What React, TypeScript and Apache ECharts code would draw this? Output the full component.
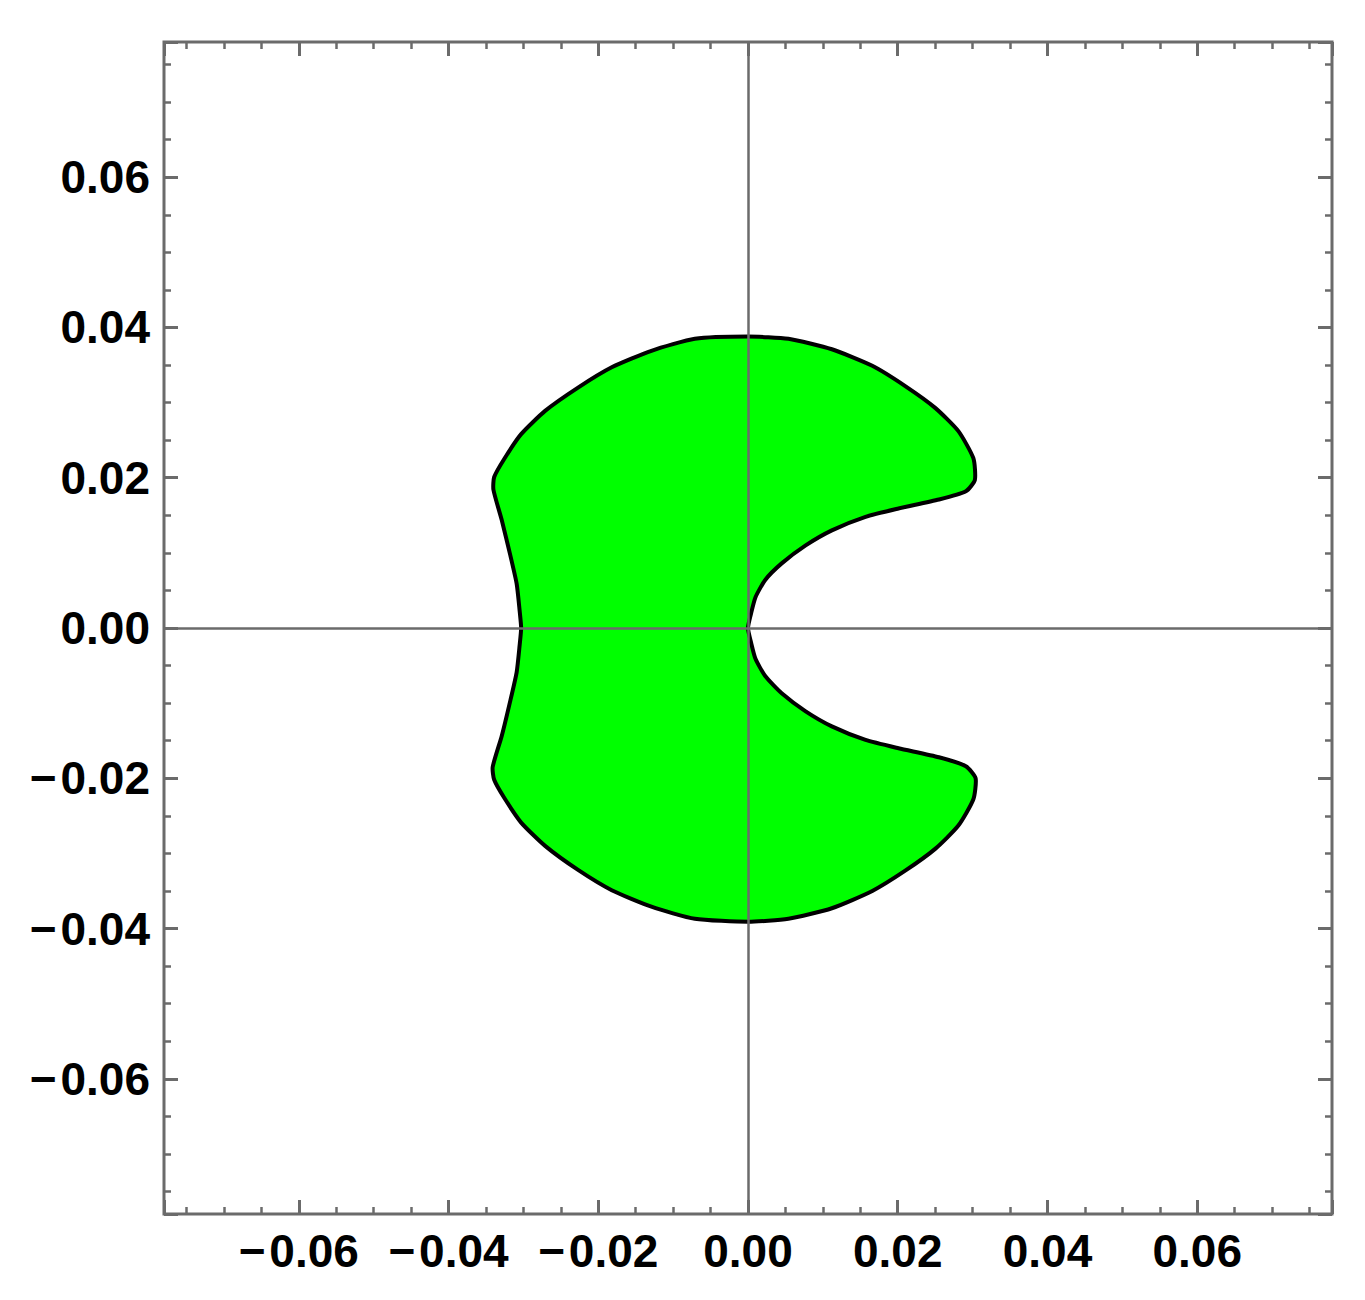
import { useEffect, useRef } from "react";
import * as echarts from "echarts";

// Axis range (both axes)
const axisMin = -0.078;
const axisMax = 0.078;

// Outline of the green region (starting at the notch, going round)
const shapeX = [
  0.0, 0.0004, 0.001, 0.0023, 0.0045, 0.0077, 0.0112, 0.0157, 0.0201, 0.0255,
  0.0291, 0.0303, 0.0301, 0.0281, 0.025, 0.021, 0.0166, 0.0112, 0.0054, 0.0,
  -0.0071, -0.0129, -0.0182, -0.0227, -0.0271, -0.0303, -0.0325, -0.0339, -0.034,
  -0.0329, -0.0318, -0.0309, -0.0305, -0.0303,
  -0.0305, -0.0309, -0.0318, -0.0329, -0.0341, -0.0339, -0.0325, -0.0303, -0.0271,
  -0.0227, -0.0182, -0.0129, -0.0071, 0.0, 0.0054, 0.0112, 0.0166, 0.021, 0.025,
  0.0281, 0.0301, 0.0304, 0.0291, 0.0255, 0.0201, 0.0157, 0.0112, 0.0077, 0.0045,
  0.0023, 0.001, 0.0004,
];
const shapeY = [
  0.0, 0.0019, 0.0041, 0.0064, 0.0086, 0.011, 0.013, 0.0148, 0.0159, 0.0171,
  0.0182, 0.0197, 0.0226, 0.0262, 0.0293, 0.0322, 0.0349, 0.0371, 0.0385, 0.0388,
  0.0385, 0.0369, 0.0347, 0.032, 0.0289, 0.0258, 0.0226, 0.0201, 0.0184,
  0.0144, 0.0099, 0.0059, 0.0023, 0.0,
  -0.0023, -0.0059, -0.0099, -0.0144, -0.0185, -0.0202, -0.0227, -0.0259, -0.029,
  -0.0322, -0.0349, -0.0371, -0.0387, -0.0391, -0.0387, -0.0373, -0.035, -0.0323, -0.0294,
  -0.0263, -0.0228, -0.02, -0.0184, -0.0172, -0.016, -0.0149, -0.0131, -0.0111, -0.0087,
  -0.0064, -0.0041, -0.0019,
];

const gray = "#6b6b6b";

function fmt(v: number): string {
  const k = v / 0.02;
  if (Math.abs(k - Math.round(k)) > 1e-6) return "";
  const s = Math.abs(v).toFixed(2);
  return v < -1e-9 ? "\u2212\u200A" + s : s;
}

function makeAxis(position: string, showLabel: boolean) {
  return {
    type: "value",
    position,
    min: axisMin,
    max: axisMax,
    splitNumber: 8,
    axisLine: { show: false, onZero: false },
    axisTick: { show: true, inside: true, length: 14, lineStyle: { color: gray, width: 3 } },
    minorTick: { show: true, splitNumber: 4, length: 7, lineStyle: { color: gray, width: 2.5 } },
    splitLine: { show: false },
    minorSplitLine: { show: false },
    axisLabel: {
      show: showLabel,
      formatter: fmt,
      showMinLabel: false,
      showMaxLabel: false,
      color: "#000",
      fontSize: 46,
      fontWeight: "bold",
      fontFamily: "Liberation Sans",
      margin: 14,
    },
  };
}

export default function App() {
  const ref = useRef<HTMLDivElement>(null);
  useEffect(() => {
    const chart = echarts.init(ref.current!, null, { renderer: "svg" });
    chart.setOption({
      animation: false,
      backgroundColor: "#ffffff",
      grid: {
        show: true,
        left: 164,
        right: 33,
        top: 42,
        bottom: 86,
        borderColor: gray,
        borderWidth: 3,
        backgroundColor: "transparent",
      },
      xAxis: [makeAxis("bottom", true), makeAxis("top", false)],
      yAxis: [makeAxis("left", true), makeAxis("right", false)],
      series: [
        {
          type: "custom",
          xAxisIndex: 0,
          yAxisIndex: 0,
          z: 2,
          data: [[0, 0]],
          renderItem: (_params: any, api: any) => {
            const pts = shapeX.map((x, i) => api.coord([x, shapeY[i]]));
            return {
              type: "polygon",
              shape: { points: pts, smooth: 0.2 },
              style: { fill: "#00ff00", stroke: "#000000", lineWidth: 4, lineJoin: "round" },
            };
          },
        },
        {
          type: "line",
          xAxisIndex: 0,
          yAxisIndex: 0,
          z: 5,
          data: [],
          markLine: {
            silent: true,
            symbol: "none",
            label: { show: false },
            lineStyle: { color: gray, width: 2.5, type: "solid" },
            data: [{ xAxis: 0 }, { yAxis: 0 }],
          },
        },
      ],
    });
    return () => chart.dispose();
  }, []);
  return (
    <div
      ref={ref}
      style={{ position: "absolute", left: 0, top: 0, width: 1365, height: 1300 }}
    />
  );
}
